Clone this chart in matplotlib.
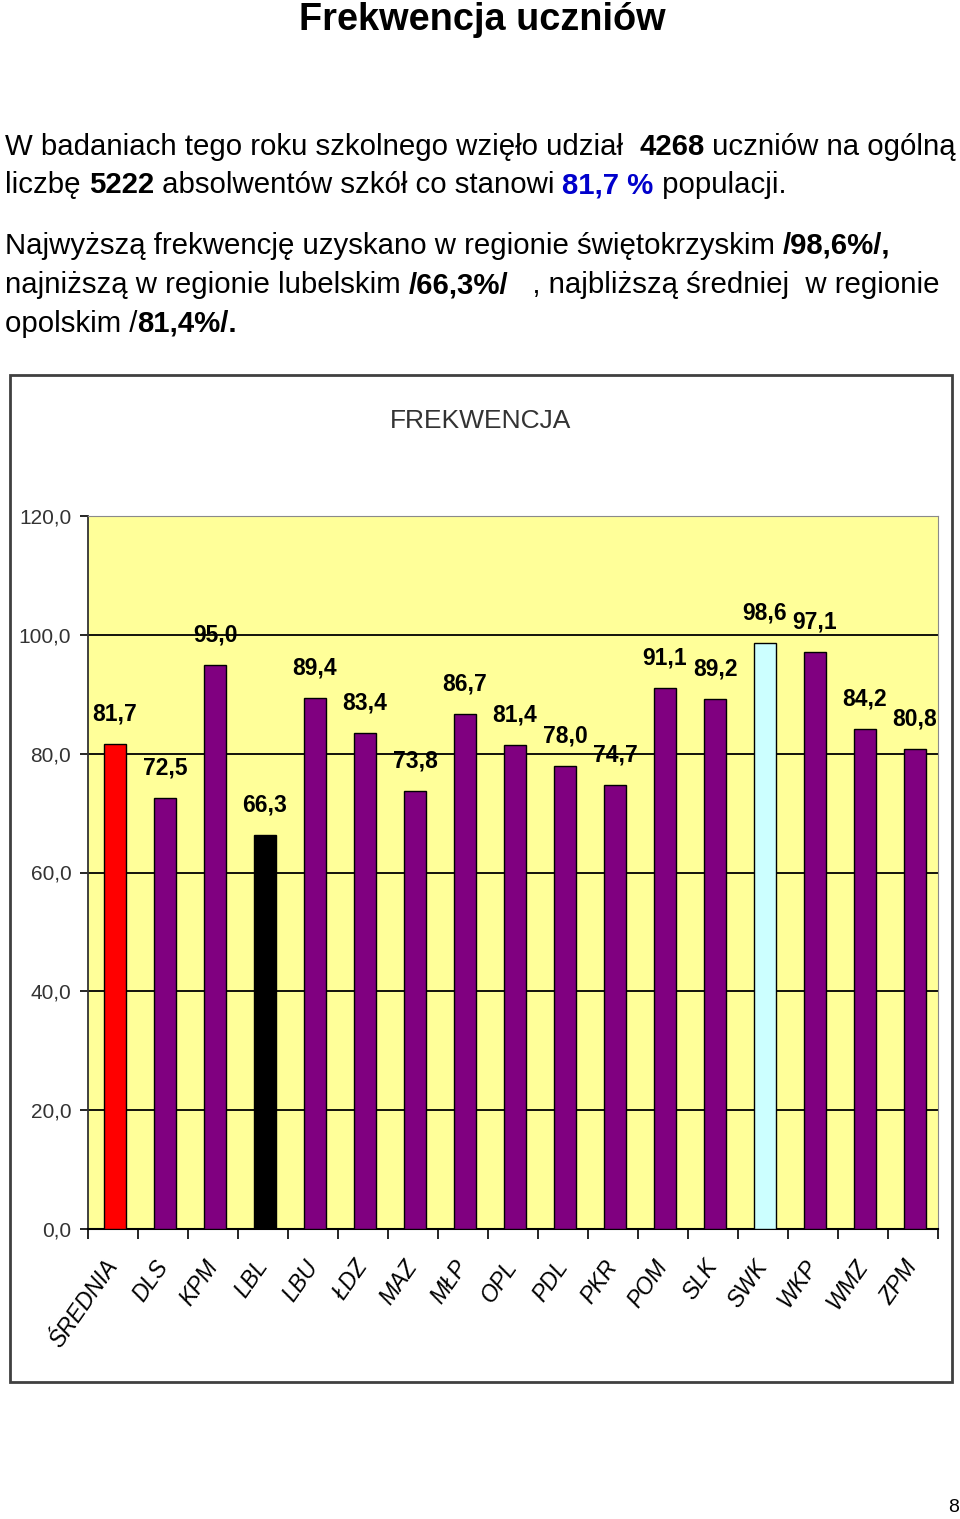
import matplotlib
matplotlib.use("Agg")
import matplotlib.pyplot as plt
import numpy as np
from matplotlib.font_manager import FontProperties
from matplotlib.patches import Rectangle

# ---------------- data ----------------
categories = ["ŚREDNIA", "DLS", "KPM", "LBL", "LBU", "ŁDZ", "MAZ", "MŁP", "OPL",
              "PDL", "PKR", "POM", "SLK", "SWK", "WKP", "WMZ", "ZPM"]
values = [81.7, 72.5, 95.0, 66.3, 89.4, 83.4, 73.8, 86.7, 81.4,
          78.0, 74.7, 91.1, 89.2, 98.6, 97.1, 84.2, 80.8]
bar_colors = ["#FF0000", "#800080", "#800080", "#000000", "#800080", "#800080",
              "#800080", "#800080", "#800080", "#800080", "#800080", "#800080",
              "#800080", "#CCFFFF", "#800080", "#800080", "#800080"]
y_ticks = [0, 20, 40, 60, 80, 100, 120]
y_tick_labels = ["0,0", "20,0", "40,0", "60,0", "80,0", "100,0", "120,0"]
value_labels = [f"{v:.1f}".replace(".", ",") for v in values]

page_title = "Frekwencja uczniów"
chart_title = "FREKWENCJA"
page_number = "8"
BLUE = "#0000CC"
paragraph_lines = [
    [("W badaniach tego roku szkolnego wzięło udział  ", "normal", "black"),
     ("4268", "bold", "black"),
     (" uczniów na ogólną", "normal", "black")],
    [("liczbę ", "normal", "black"),
     ("5222", "bold", "black"),
     (" absolwentów szkół co stanowi ", "normal", "black"),
     ("81,7 %", "bold", BLUE),
     (" populacji.", "normal", "black")],
    [("Najwyższą frekwencję uzyskano w regionie świętokrzyskim ", "normal", "black"),
     ("/98,6%/,", "bold", "black")],
    [("najniższą w regionie lubelskim ", "normal", "black"),
     ("/66,3%/", "bold", "black"),
     ("   , najbliższą średniej  w regionie", "normal", "black")],
    [("opolskim /", "normal", "black"),
     ("81,4%/.", "bold", "black")],
]
line_baselines = [155, 193, 254, 293, 332]

# ---------------- figure ----------------
W, H = 960, 1519
fig = plt.figure(figsize=(W / 100, H / 100), dpi=100)
fig.patch.set_facecolor("white")

def fx(x):
    return x / W

def fy(y):
    return 1 - y / H

SANS = ["Liberation Sans", "DejaVu Sans"]

# page title
fig.text(fx(482), fy(30), page_title, ha="center", va="baseline",
         fontsize=27.3, fontweight="bold", family=SANS)

# paragraph with mixed styles
renderer = fig.canvas.get_renderer()
PFS = 21.2

def adv(s, weight):
    fp = FontProperties(family=SANS, size=PFS, weight=weight)
    w1, _, _ = renderer.get_text_width_height_descent(s + "|", fp, ismath=False)
    w2, _, _ = renderer.get_text_width_height_descent("|", fp, ismath=False)
    return w1 - w2

for runs, yb in zip(paragraph_lines, line_baselines):
    x = 5.0
    for s, wt, col in runs:
        fig.text(fx(x), fy(yb), s, ha="left", va="baseline", fontsize=PFS,
                 fontweight=wt, color=col, family=SANS)
        x += adv(s, wt)

# chart frame
frame = Rectangle((fx(10), fy(1382)), fx(952) - fx(10), fy(375) - fy(1382),
                  transform=fig.transFigure, facecolor="white",
                  edgecolor="#404040", linewidth=2, zorder=-5)
fig.patches.append(frame)

fig.text(fx(481), fy(421), chart_title, ha="center", va="center",
         fontsize=19, color="#333333", family=SANS)

# axes
ax_l, ax_r, ax_t, ax_b = 88, 938, 516, 1229
ax = fig.add_axes([fx(ax_l), fy(ax_b), fx(ax_r) - fx(ax_l), fy(ax_t) - fy(ax_b)])
ax.set_zorder(2)
ax.set_facecolor("#FFFF99")
x = np.arange(len(categories))
ax.bar(x + 0.04, values, width=0.44, color=bar_colors, edgecolor="black",
       linewidth=1.0, zorder=3)
ax.set_xlim(-0.5, len(categories) - 0.5)
ax.set_ylim(0, 120)
for yv in y_ticks[1:-1]:
    ax.axhline(yv, color="black", linewidth=1.3, zorder=1)

for xi, v, lab in zip(x, values, value_labels):
    ax.annotate(lab, (xi + 0.04, v), xytext=(0, 21.6), textcoords="offset points",
                ha="center", va="center", fontsize=16.5, fontweight="bold",
                family=SANS, zorder=4)

ax.set_yticks(y_ticks)
ax.set_yticklabels(y_tick_labels, fontsize=15, color="#333333", family=SANS)
ax.tick_params(axis="y", direction="out", length=6, width=1.2, pad=6)

ax.set_xticks(x)
ax.set_xticklabels(categories, rotation=55, ha="right", va="center",
                   rotation_mode="anchor", fontsize=16.5, style="italic",
                   family=SANS)
ax.tick_params(axis="x", which="major", length=0, pad=24)
ax.set_xticks(np.arange(-0.5, len(categories), 1), minor=True)
ax.tick_params(axis="x", which="minor", direction="out", length=7, width=1.2)

ax.spines["left"].set_color("#333333")
ax.spines["left"].set_linewidth(1.3)
ax.spines["bottom"].set_color("black")
ax.spines["bottom"].set_linewidth(1.5)
ax.spines["top"].set_color("#8a8a8a")
ax.spines["right"].set_color("#8a8a8a")

fig.text(fx(954), fy(1508), page_number, ha="center", va="center",
         fontsize=14, family=SANS)

fig.savefig("out.png", dpi=100)
